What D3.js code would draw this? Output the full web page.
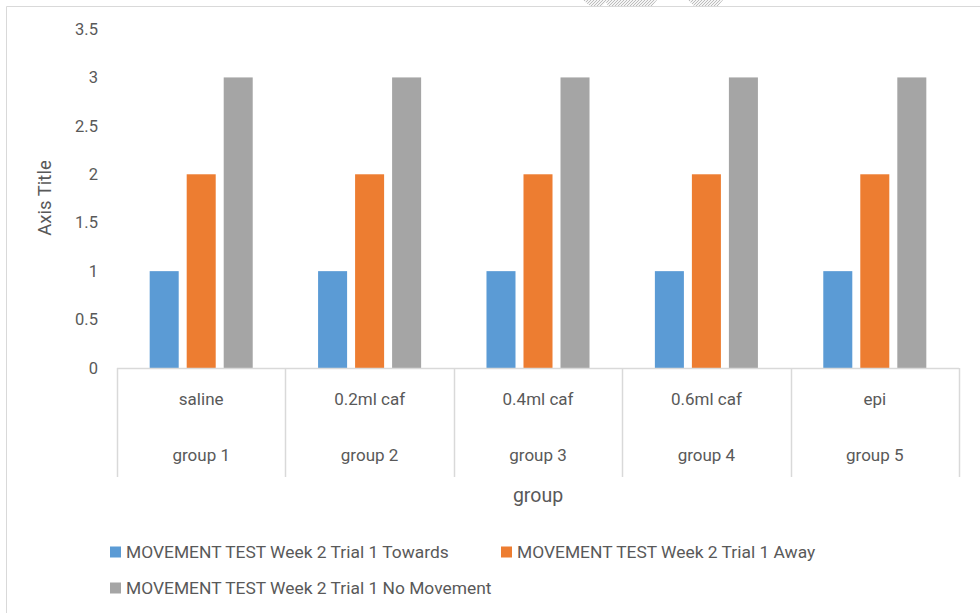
<!DOCTYPE html>
<html>
<head>
<meta charset="utf-8">
<script src="https://cdn.jsdelivr.net/npm/d3@7"></script>
<style>
  body { margin: 0; background: #fff; }
  text { font-family: Roboto, "Liberation Sans", sans-serif; fill: #595959; }
</style>
</head>
<body>
<script>
const groups = ["group 1", "group 2", "group 3", "group 4", "group 5"];
const treatments = ["saline", "0.2ml caf", "0.4ml caf", "0.6ml caf", "epi"];
const seriesNames = [
  "MOVEMENT TEST Week 2 Trial 1 Towards",
  "MOVEMENT TEST Week 2 Trial 1 Away",
  "MOVEMENT TEST Week 2 Trial 1 No Movement"
];
const towards = [1, 1, 1, 1, 1];
const away = [2, 2, 2, 2, 2];
const noMovement = [3, 3, 3, 3, 3];
const yTicks = [0, 0.5, 1, 1.5, 2, 2.5, 3, 3.5];
const colors = ["#5b9bd5", "#ed7d31", "#a5a5a5"];

const w = 980;
const h = 613;
const plotLeft = 117, plotRight = 959, plotTop = 29, plotBottom = 368;

const svg = d3.select("body")
    .append("svg")
    .attr("width", w)
    .attr("height", h);

// faint hatch marks peeking in at the top edge
const defs = svg.append("defs");
const pat = defs.append("pattern")
    .attr("id", "hatch")
    .attr("width", 3).attr("height", 3)
    .attr("patternUnits", "userSpaceOnUse");
pat.append("rect").attr("width", 3).attr("height", 3).attr("fill", "#f4f4f4");
pat.append("path").attr("d", "M0,3 L3,0").attr("stroke", "#bdbdbd").attr("stroke-width", 1);
svg.append("path").attr("d", "M583,0 L657,0 L652,6 L608,6 L606,2 L602,6 L590,6 Z").attr("fill", "url(#hatch)");
svg.append("path").attr("d", "M688,0 L723,0 L718,6 L694,6 Z").attr("fill", "url(#hatch)");

// chart border (left and top only visible)
svg.append("path")
    .attr("d", "M6.5,613 L6.5,6.5 L980,6.5")
    .attr("fill", "none")
    .attr("stroke", "#d9d9d9");

const x0 = d3.scaleBand().domain(groups).range([plotLeft, plotRight]).padding(0);
const x1 = d3.scaleBand().domain(seriesNames).range([0, x0.bandwidth()])
    .paddingInner(0.216).paddingOuter(0.883);
const y = d3.scaleLinear().domain([0, 3.5]).range([plotBottom, plotTop]);

// y tick labels
svg.append("g").selectAll("text")
    .data(yTicks)
    .enter()
    .append("text")
    .attr("x", 98)
    .attr("y", d => y(d))
    .attr("dy", "0.35em")
    .attr("text-anchor", "end")
    .attr("font-size", 16.5)
    .text(d => d);

// bars
const allSeries = [towards, away, noMovement];
groups.forEach((g, i) => {
  allSeries.forEach((vals, s) => {
    svg.append("rect")
      .attr("x", x0(g) + x1(seriesNames[s]))
      .attr("y", y(vals[i]))
      .attr("width", x1.bandwidth())
      .attr("height", y(0) - y(vals[i]))
      .attr("fill", colors[s]);
  });
});

// category axis line and separators
svg.append("line")
    .attr("x1", plotLeft).attr("x2", plotRight)
    .attr("y1", plotBottom + 0.5).attr("y2", plotBottom + 0.5)
    .attr("stroke", "#d9d9d9").attr("stroke-width", 1.5);
const seps = groups.map(g => x0(g)).concat([plotRight]);
svg.append("g").selectAll("line")
    .data(seps)
    .enter()
    .append("line")
    .attr("x1", d => Math.round(d) + 0.5).attr("x2", d => Math.round(d) + 0.5)
    .attr("y1", plotBottom).attr("y2", 477)
    .attr("stroke", "#d9d9d9").attr("stroke-width", 1.5);

svg.append("g").selectAll("text")
    .data(treatments)
    .enter()
    .append("text")
    .attr("x", (d, i) => x0(groups[i]) + x0.bandwidth() / 2)
    .attr("y", 399)
    .attr("dy", "0.35em")
    .attr("text-anchor", "middle")
    .attr("font-size", 17)
    .text(d => d);

svg.append("g").selectAll("text")
    .data(groups)
    .enter()
    .append("text")
    .attr("x", d => x0(d) + x0.bandwidth() / 2)
    .attr("y", 455)
    .attr("dy", "0.35em")
    .attr("text-anchor", "middle")
    .attr("font-size", 17)
    .text(d => d);

// axis titles
svg.append("text")
    .attr("x", 538).attr("y", 495)
    .attr("dy", "0.35em")
    .attr("text-anchor", "middle")
    .attr("font-size", 19.5)
    .text("group");

svg.append("text")
    .attr("transform", "translate(45,198) rotate(-90)")
    .attr("dy", "0.35em")
    .attr("text-anchor", "middle")
    .attr("font-size", 18.5)
    .text("Axis Title");

// legend
const legendPos = [[110, 552], [501, 552], [110, 588]];
const legend = svg.append("g").selectAll("g")
    .data(seriesNames)
    .enter()
    .append("g")
    .attr("transform", (d, i) => `translate(${legendPos[i][0]},${legendPos[i][1]})`);
legend.append("rect")
    .attr("x", 0).attr("y", -5.5)
    .attr("width", 11).attr("height", 11)
    .attr("fill", (d, i) => colors[i]);
legend.append("text")
    .attr("x", 16).attr("y", 0)
    .attr("dy", "0.35em")
    .attr("font-size", 17.4)
    .text(d => d);
</script>
</body>
</html>
